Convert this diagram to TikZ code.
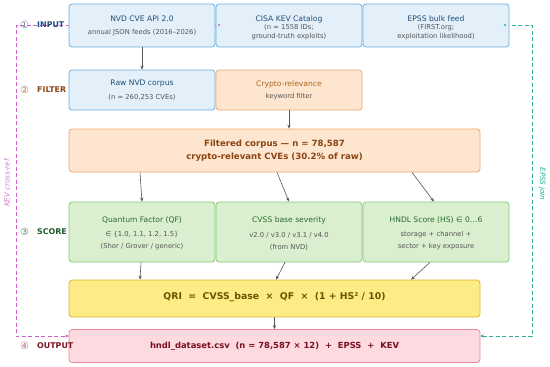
\documentclass[tikz,border=0pt]{standalone}
\usepackage{fontspec}
\setmainfont{DejaVu Sans}
\usetikzlibrary{arrows.meta,calc}
\definecolor{blueF}{HTML}{E3F0FA}
\definecolor{blueD}{HTML}{6AAEE0}
\definecolor{blueT}{HTML}{1F4E79}
\definecolor{orF}{HTML}{FDE5CF}
\definecolor{orD}{HTML}{F2A66A}
\definecolor{orT}{HTML}{B0651E}
\definecolor{orB}{HTML}{8B4513}
\definecolor{grF}{HTML}{D9EFCF}
\definecolor{grD}{HTML}{86C877}
\definecolor{grT}{HTML}{2E6B2E}
\definecolor{grS}{HTML}{1E5A2A}
\definecolor{yeF}{HTML}{FDEB85}
\definecolor{yeD}{HTML}{E0B530}
\definecolor{yeT}{HTML}{6B5300}
\definecolor{piF}{HTML}{FDD9E0}
\definecolor{piD}{HTML}{E88A9C}
\definecolor{piT}{HTML}{7A1020}
\definecolor{subT}{HTML}{555555}
\definecolor{arrC}{HTML}{555555}
\definecolor{kevC}{HTML}{D060C8}
\definecolor{epsC}{HTML}{2AB09C}
\begin{document}
\begin{tikzpicture}[x=1pt,y=-1pt,
  box/.style={draw, rounded corners=3pt, line width=0.75pt, inner sep=0pt},
  bluebox/.style={box, fill=blueF, draw=blueD},
  orbox/.style={box, fill=orF, draw=orD},
  grbox/.style={box, fill=grF, draw=grD},
  yebox/.style={box, fill=yeF, draw=yeD},
  pibox/.style={box, fill=piF, draw=piD},
  ttl/.style={font=\fontsize{7.6}{9}\selectfont, inner sep=0pt},
  sub/.style={font=\fontsize{6.8}{9}\selectfont, text=subT, align=center, inner sep=0pt},
  sub12/.style={sub, font=\fontsize{6.8}{12}\selectfont},
  stg/.style={font=\fontsize{7.9}{9}\selectfont\bfseries, anchor=west, inner sep=0pt},
  num/.style={font=\fontsize{10}{11}\selectfont, inner sep=0pt},
  arr/.style={draw=arrC, line width=0.6pt, -{Stealth[length=4pt,width=3.2pt]}},
  kevline/.style={draw=kevC, line width=0.9pt, dash pattern=on 4pt off 2.5pt},
  epsline/.style={draw=epsC, line width=0.9pt, dash pattern=on 4pt off 2.5pt},
]
\useasboundingbox (0,0) rectangle (550,367);

% dashed cross-reference lines (behind boxes)
\coordinate (kevdot) at (219,25);
\coordinate (kevin) at (69,336);
\coordinate (epsdot) at (505,25);
\coordinate (epsin) at (480,336);
\draw[kevline, -{Stealth[length=4pt,width=3.2pt]}] (kevdot) -- (16,25) -- (16,336) -- (kevin);
\draw[epsline, -{Stealth[length=4pt,width=3.2pt]}] (epsdot) -- (532,25) -- (532,336) -- (epsin);

% row 1: INPUT
\node[bluebox, minimum width=146pt, minimum height=43pt] (nvd) at (142,25.5) {};
\node[bluebox, minimum width=146pt, minimum height=43pt] (kev) at (289,25.5) {};
\node[bluebox, minimum width=146pt, minimum height=43pt] (epss) at (436,25.5) {};
\fill[kevC] (kevdot) circle (1.2pt);
\fill[epsC] (epsdot) circle (1.2pt);
\node[ttl, text=blueT] (nvdT) at (142,19) {NVD CVE API 2.0};
\node[sub] (nvdS) at (142,33) {annual JSON feeds (2016–2026)};
\node[ttl, text=blueT] (kevT) at (289,19) {CISA KEV Catalog};
\node[sub] (kevS) at (289,32.5) {(n = 1558 IDs;\\ground-truth exploits)};
\node[ttl, text=blueT] (epsT) at (436,19) {EPSS bulk feed};
\node[sub] (epsS) at (436,32.5) {(FIRST.org;\\exploitation likelihood)};

% row 2: FILTER
\node[bluebox, minimum width=146pt, minimum height=40pt] (raw) at (142,90) {};
\node[orbox, minimum width=146pt, minimum height=40pt] (crypto) at (289,90) {};
\node[ttl, text=blueT] (rawT) at (142,84) {Raw NVD corpus};
\node[sub] (rawS) at (142,97) {(n = 260,253 CVEs)};
\node[ttl, text=orT] (cryT) at (289,84) {Crypto-relevance};
\node[sub] (cryS) at (289,97) {keyword filter};

% filtered corpus
\node[orbox, minimum width=411pt, minimum height=43pt] (filt) at (274.5,150.5) {};
\node[font=\fontsize{8.6}{13}\selectfont\bfseries, text=orB, align=center, inner sep=0pt] (filtT) at (274.5,150.5) {Filtered corpus — n = 78,587\\crypto-relevant CVEs (30.2\% of raw)};

% row 3: SCORE
\node[grbox, minimum width=146pt, minimum height=60pt] (qf) at (142,232) {};
\node[grbox, minimum width=146pt, minimum height=60pt] (cvss) at (289,232) {};
\node[grbox, minimum width=146pt, minimum height=60pt] (hndl) at (436,232) {};
\node[ttl, text=grT] (qfT) at (142,220) {Quantum Factor (QF)};
\node[sub12] (qfS) at (142,241) {∈ \{1.0, 1.1, 1.2, 1.5\}\\(Shor / Grover / generic)};
\node[ttl, text=grT] (cvT) at (289,220) {CVSS base severity};
\node[sub12] (cvS) at (289,241) {v2.0 / v3.0 / v3.1 / v4.0\\(from NVD)};
\node[ttl, text=grT] (hnT) at (436,220) {HNDL Score (HS) ∈ 0…6};
\node[sub12] (hnS) at (436,241) {storage + channel +\\sector + key exposure};

% QRI
\node[yebox, minimum width=411pt, minimum height=37pt] (qri) at (274.5,298.5) {};
\node[font=\fontsize{9.3}{10}\selectfont\bfseries, text=yeT, inner sep=0pt] (qriT) at (274.5,297.5) {QRI \ = \ CVSS\_base \ × \ QF \ × \ (1 + HS² / 10)};

% OUTPUT
\node[pibox, minimum width=411pt, minimum height=33pt] (out) at (274.5,346) {};
\node[font=\fontsize{8.4}{9}\selectfont\bfseries, text=piT, inner sep=0pt] (outT) at (274.5,346) {hndl\_dataset.csv \ (n = 78,587 × 12) \ + \ EPSS \ + \ KEV};

% stage labels
\node[num, text=blueT!70] (n1) at (24.5,25) {①};
\node[stg, text=blueT] (s1) at (37,25) {INPUT};
\node[num, text=orB!70] (n2) at (24.5,90) {②};
\node[stg, text=orB] (s2) at (37,90) {FILTER};
\node[num, text=grS!70] (n3) at (24.5,232) {③};
\node[stg, text=grS] (s3) at (37,232) {SCORE};
\node[num, text=piT!60] (n4) at (24.5,346) {④};
\node[stg, text=piT] (s4) at (37,346) {OUTPUT};

% side labels
\node[font=\fontsize{7.2}{8}\selectfont\itshape, text=kevC!85, rotate=90, inner sep=0pt] (kevL) at (7,183) {KEV cross-ref};
\node[font=\fontsize{7.2}{8}\selectfont\itshape, text=epsC, rotate=-90, inner sep=0pt] (epsL) at (542,184) {EPSS join};

% arrows
\draw[arr] (nvd.south) -- (raw.north);
\draw[arr] (crypto.south) -- (crypto.south |- filt.north);
\draw[arr] ($(filt.south)+(-134.5,0)$) -- (qf.north);
\draw[arr] ($(filt.south)+(2.5,0)$) -- (cvss.north);
\draw[arr] ($(filt.south)+(137.5,0)$) -- ($(hndl.north)+(-2,0)$);
\draw[arr] ($(qf.south)+(-1,0)$) -- ($(qri.north)+(-134.5,0)$);
\draw[arr] ($(cvss.south)+(-4,0)$) -- ($(qri.north)+(1.5,0)$);
\draw[arr] ($(hndl.south)+(-6,0)$) -- ($(qri.north)+(136.5,0)$);
\draw[arr] (qri.south) -- (out.north);
\end{tikzpicture}
\end{document}
